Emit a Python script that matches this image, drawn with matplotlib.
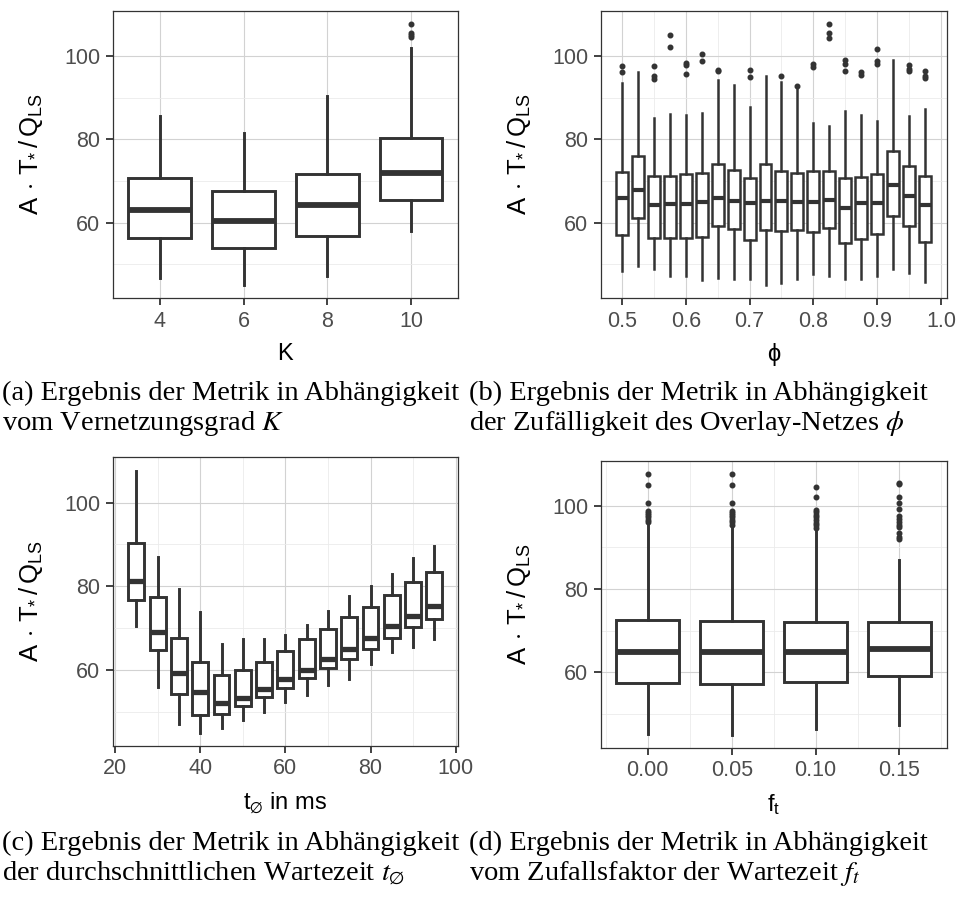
import matplotlib
matplotlib.use("Agg")
import matplotlib.pyplot as plt
from matplotlib.ticker import FixedLocator

plt.rcParams['font.family'] = ['Liberation Sans', 'DejaVu Sans']
plt.rcParams['mathtext.fontset'] = 'custom'
plt.rcParams['mathtext.rm'] = 'Liberation Sans'
plt.rcParams['mathtext.it'] = 'Liberation Sans:italic'
plt.rcParams['mathtext.bf'] = 'Liberation Sans:bold'

DARK = '#333333'

# ---- data: five number summaries (whislo, q1, med, q3, whishi)
k_vals = [4, 6, 8, 10]
k_stats = [
    (46.6, 56.4, 63.1, 70.8, 85.7),
    (45.1, 53.8, 60.5, 67.5, 81.5),
    (47.2, 56.8, 64.2, 71.7, 90.3),
    (58.1, 65.4, 72.0, 80.3, 102.0),
]
k_fliers = [[], [], [], [104.6, 105.1, 105.6, 107.7]]

phi_vals = [0.5, 0.525, 0.55, 0.575, 0.6, 0.625, 0.65, 0.675, 0.7, 0.725,
            0.75, 0.775, 0.8, 0.825, 0.85, 0.875, 0.9, 0.925, 0.95, 0.975]
phi_stats = [
    (48.5, 57.1, 65.8, 72.2, 93.5),
    (49.6, 61.1, 67.8, 75.9, 96.2),
    (48.9, 56.4, 64.3, 71.1, 85.2),
    (47.1, 56.4, 64.5, 71.3, 86.1),
    (47.1, 56.4, 64.5, 71.7, 85.9),
    (46.3, 56.6, 65.0, 72.0, 86.4),
    (46.8, 59.2, 65.8, 74.0, 94.3),
    (46.5, 58.4, 65.1, 72.6, 93.0),
    (46.5, 55.9, 64.6, 70.6, 87.7),
    (45.0, 58.3, 65.2, 74.1, 95.1),
    (45.4, 57.9, 65.1, 72.5, 93.8),
    (46.4, 58.3, 65.0, 71.9, 92.3),
    (47.6, 57.7, 65.0, 72.4, 83.9),
    (47.2, 58.7, 65.5, 72.4, 83.1),
    (46.5, 55.0, 63.4, 70.6, 86.8),
    (46.5, 56.1, 64.6, 70.9, 85.9),
    (47.2, 57.3, 64.7, 71.7, 84.5),
    (48.9, 61.5, 69.0, 77.3, 99.0),
    (48.0, 59.3, 66.3, 73.5, 85.6),
    (45.8, 55.4, 64.2, 71.1, 87.3),
]
phi_fliers = [
    [96.1, 97.6], [], [94.4, 95.2, 97.7], [102.1, 105.1], [95.8, 97.8, 98.4],
    [98.8, 100.6], [96.3, 96.6], [], [94.9, 96.6], [],
    [95.2], [92.9], [97.4, 98.2], [104.4, 105.5, 107.7], [96.3, 98.2, 99.1],
    [95.5, 96.2], [98.2, 98.7, 101.8], [], [96.4, 97.0, 97.8], [94.7, 95.1, 96.4],
]

t_vals = [25, 30, 35, 40, 45, 50, 55, 60, 65, 70, 75, 80, 85, 90, 95]
t_stats = [
    (70.4, 76.8, 81.2, 90.4, 107.6),
    (56.0, 64.8, 69.1, 77.5, 87.1),
    (47.2, 54.3, 59.3, 67.6, 79.3),
    (44.9, 49.2, 54.8, 61.8, 73.8),
    (46.2, 49.5, 52.0, 58.8, 66.3),
    (48.1, 51.4, 53.3, 60.1, 67.3),
    (50.0, 53.5, 55.5, 62.0, 67.3),
    (52.4, 55.6, 57.8, 64.6, 68.3),
    (54.0, 58.0, 60.1, 67.3, 70.7),
    (56.3, 60.4, 62.7, 69.9, 74.0),
    (57.8, 62.7, 65.0, 72.6, 77.7),
    (61.5, 65.0, 67.7, 75.0, 80.0),
    (64.2, 67.6, 70.6, 77.9, 82.9),
    (65.4, 70.2, 73.0, 80.9, 86.8),
    (67.3, 72.2, 75.3, 83.4, 89.5),
]
t_fliers = [[] for _ in t_vals]

f_vals = [0.0, 0.05, 0.10, 0.15]
f_stats = [
    (45.1, 57.4, 64.8, 72.6, 95.6),
    (44.9, 57.3, 64.8, 72.4, 95.2),
    (46.3, 57.6, 64.8, 72.1, 93.9),
    (47.3, 59.1, 65.7, 72.1, 87.0),
]
f_fliers = [
    [96.1, 96.6, 97.2, 97.8, 98.3, 98.8, 100.6, 105.0, 107.6],
    [95.3, 96.0, 96.6, 97.2, 97.8, 98.3, 98.8, 100.6, 105.0, 107.6],
    [94.6, 95.3, 95.9, 96.6, 97.2, 97.8, 98.4, 99.0, 102.0, 104.4],
    [91.9, 92.6, 93.4, 94.8, 95.4, 96.2, 96.9, 97.5, 99.2, 100.6, 102.0, 105.2, 105.5],
]

ylab = r'$\mathrm{A}\,\cdot\,\mathrm{T}_{*}\,/\,\mathrm{Q}_{\mathrm{LS}}$'


def make_stats(stats, fliers):
    out = []
    for (lo, q1, med, q3, hi), fl in zip(stats, fliers):
        out.append(dict(whislo=lo, q1=q1, med=med, q3=q3, whishi=hi, fliers=fl))
    return out


def draw_panel(ax, pos, stats, fliers, width, lw, mlw, xlim, xticks, xticklabels,
               xminor, xlabel):
    ax.bxp(make_stats(stats, fliers), positions=pos, widths=width,
           showcaps=False, patch_artist=True, manage_ticks=False,
           boxprops=dict(facecolor='white', edgecolor=DARK, linewidth=lw),
           whiskerprops=dict(color=DARK, linewidth=lw),
           medianprops=dict(color=DARK, linewidth=mlw, solid_capstyle='butt'),
           flierprops=dict(marker='o', markerfacecolor=DARK, markeredgecolor=DARK,
                           markersize=3.3, linestyle='none'),
           zorder=3)
    ax.set_xlim(*xlim)
    ax.set_ylim(41.9, 110.8)
    ax.set_xticks(xticks)
    ax.set_xticklabels(xticklabels)
    ax.set_yticks([60, 80, 100])
    ax.yaxis.set_minor_locator(FixedLocator([50, 70, 90]))
    if xminor:
        ax.xaxis.set_minor_locator(FixedLocator(xminor))
    ax.grid(True, which='major', color='#d2d2d2', linewidth=0.8, zorder=0)
    ax.grid(True, which='minor', color='#ebebeb', linewidth=0.6, zorder=0)
    ax.set_axisbelow(True)
    ax.tick_params(which='major', direction='out', length=5, width=1.3,
                   color=DARK, labelsize=15.5, labelcolor='#4d4d4d', pad=4)
    ax.tick_params(which='minor', length=0)
    for s in ax.spines.values():
        s.set_color(DARK)
        s.set_linewidth(0.9)
    ax.set_xlabel(xlabel, fontsize=17, labelpad=8)
    ax.set_ylabel(ylab, fontsize=18.5, labelpad=14)


fig = plt.figure(figsize=(9.56, 9.05), dpi=100)

ax_a = fig.add_axes([0.1179, 0.6707, 0.3612, 0.3171])
draw_panel(ax_a, k_vals, k_stats, k_fliers, 1.5, 2.1, 4.2,
           (2.875, 11.125), [4, 6, 8, 10], ['4', '6', '8', '10'], None, 'K')

ax_b = fig.add_axes([0.6283, 0.6707, 0.3619, 0.3171])
draw_panel(ax_b, phi_vals, phi_stats, phi_fliers, 0.01875, 1.8, 3.0,
           (0.4666, 1.0089), [0.5, 0.6, 0.7, 0.8, 0.9, 1.0],
           ['0.5', '0.6', '0.7', '0.8', '0.9', '1.0'],
           [0.55, 0.65, 0.75, 0.85, 0.95], '\u03d5')

ax_c = fig.add_axes([0.1179, 0.1760, 0.3612, 0.3187])
draw_panel(ax_c, t_vals, t_stats, t_fliers, 3.75, 2.1, 3.8,
           (19.44, 100.56), [20, 40, 60, 80, 100], ['20', '40', '60', '80', '100'],
           [30, 50, 70, 90], r'$\mathrm{t}_{\varnothing}$ in ms')

ax_d = fig.add_axes([0.6283, 0.1738, 0.3619, 0.3171])
draw_panel(ax_d, f_vals, f_stats, f_fliers, 0.0375, 2.1, 4.2,
           (-0.0281, 0.1781), [0.0, 0.05, 0.10, 0.15], ['0.00', '0.05', '0.10', '0.15'],
           [-0.025, 0.025, 0.075, 0.125, 0.175], r'$\mathrm{f_t}$')

# captions
cap_kw = dict(fontsize=20.5, family='Liberation Serif', math_fontfamily='stix',
              va='center', ha='left')
fig.text(2 / 956, 1 - 393 / 905, '(a) Ergebnis der Metrik in Abhängigkeit', **cap_kw)
fig.text(2 / 956, 1 - 423 / 905, r'vom Vernetzungsgrad $K$', **cap_kw)
fig.text(469 / 956, 1 - 393 / 905, '(b) Ergebnis der Metrik in Abhängigkeit', **cap_kw)
fig.text(469 / 956, 1 - 423 / 905, r'der Zufälligkeit des Overlay-Netzes $\phi$', **cap_kw)
fig.text(2 / 956, 1 - 843 / 905, '(c) Ergebnis der Metrik in Abhängigkeit', **cap_kw)
fig.text(2 / 956, 1 - 873 / 905, r'der durchschnittlichen Wartezeit $t_{\varnothing}$', **cap_kw)
fig.text(469 / 956, 1 - 843 / 905, '(d) Ergebnis der Metrik in Abhängigkeit', **cap_kw)
fig.text(469 / 956, 1 - 873 / 905, r'vom Zufallsfaktor der Wartezeit $f_t$', **cap_kw)

fig.savefig('out.png', dpi=100)
